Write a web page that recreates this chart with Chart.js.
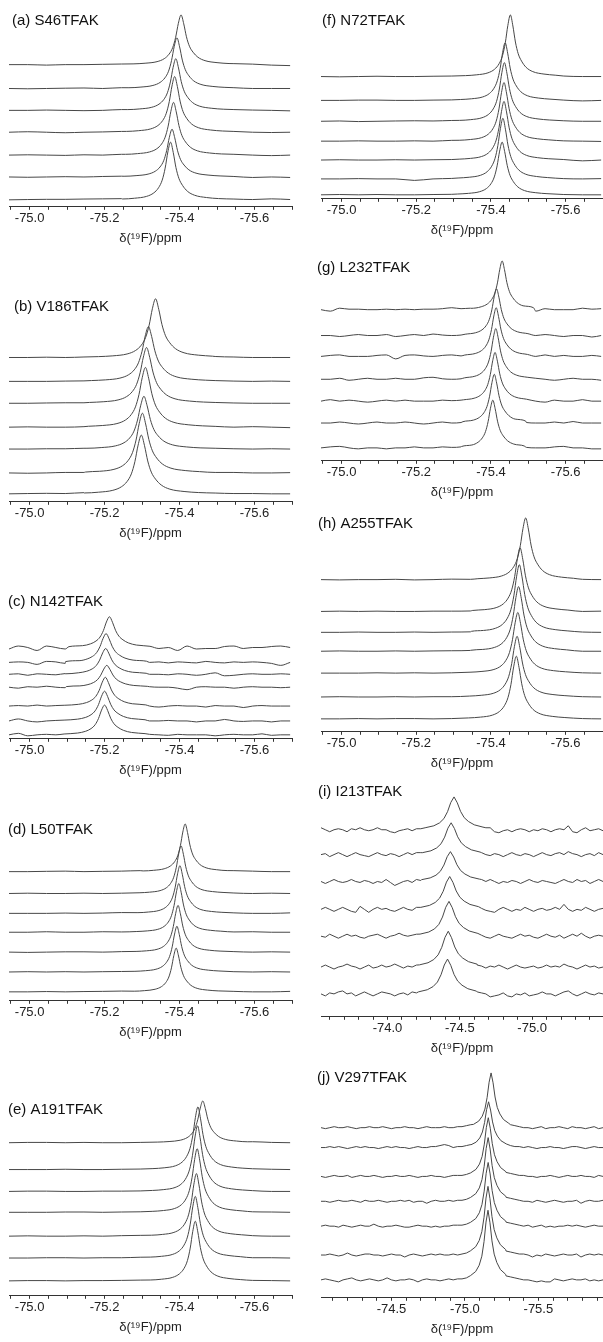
<!DOCTYPE html>
<html>
<head>
<meta charset="utf-8">
<title>19F NMR spectra of TFAK-labelled variants</title>
<script src="https://cdn.jsdelivr.net/npm/chart.js@4.4.1/dist/chart.umd.min.js"></script>
<style>
  html, body { margin: 0; padding: 0; background: #fff; }
  #figure { position: relative; width: 603px; height: 1342px; overflow: hidden; background: #fff; }
  #figure canvas { position: absolute; }
</style>
</head>
<body>
<div id="figure"></div>
<script>
// Resonance line shape: offsets in half-widths, heights relative to the apex
const lineShapeU = [-8, -6, -4, -2.8, -2, -1.4, -0.9, -0.45, 0, 0.45, 0.9, 1.4, 2, 2.8, 4, 6, 8];
const lineShapeY = [0.015, 0.028, 0.06, 0.12, 0.21, 0.34, 0.55, 0.83, 1, 0.82, 0.56, 0.37, 0.25, 0.15, 0.08, 0.04, 0.022];

// Each panel: 7 spectra, listed bottom to top. Offsets/heights in plot units,
// baseline arrays sampled every <step> ppm from the left end of the axis.
// <reach> is how many half-widths either side the line shape covers.

// (a) S46TFAK
const aTitle = '(a) S46TFAK';
const aRange = [-74.945, -75.70];
const aTicks = [-75.0, -75.2, -75.4, -75.6];
const aStep = 0.05;
const aHalfWidth = 0.016;
const aReach = 8;
const aOffset = [7, 30, 52, 75, 97, 119, 143];
const aPeakPpm = [-75.376, -75.38, -75.384, -75.387, -75.39, -75.393, -75.404];
const aPeakHeight = [58, 48, 53, 56, 52, 51, 50];
const aBaseline = [
  [0, 0.3, 0.5, 0.5, 0.8, 1, 1.2, 2.5, 4, 4, 2.5, 1.5, 0.8, 0.3, 1, 0.3],
  [0, -0.3, 0, 0.3, 0, 0.5, 0.8, 1.5, 3, 4, 2.5, 1.5, 0.5, -0.5, 0, -0.5],
  [0, 0.3, 0, -0.3, 0.3, 0, 0.8, 1.5, 3, 4, 2.5, 1.5, 0.8, 0, -0.5, 0],
  [0, 0.5, 0, -0.5, 0, 0.3, 0.8, 1.5, 3, 4, 3, 1.5, 0.8, 0, -0.3, 0],
  [0, 0, 0.3, 0, -0.3, 0, 0.8, 1.5, 3, 4, 3, 1.5, 0.8, 0.3, 0, -0.5],
  [0, -0.3, 0, 0.3, 0.5, 0, 0.8, 1.5, 2.5, 4, 3, 1.5, 0.8, 0, 0, 0],
  [0, 0, -0.5, 0, 0, 0.3, 0.6, 1, 2.5, 3.5, 3.5, 1.5, 1, 0.5, -0.5, -1]
];

// (b) V186TFAK
const bTitle = '(b) V186TFAK';
const bRange = [-74.945, -75.70];
const bTicks = [-75.0, -75.2, -75.4, -75.6];
const bStep = 0.05;
const bHalfWidth = 0.019;
const bReach = 8;
const bOffset = [8, 29, 53, 75, 99, 121, 145];
const bPeakPpm = [-75.298, -75.301, -75.305, -75.309, -75.312, -75.317, -75.336];
const bPeakHeight = [59, 60, 53, 60, 56, 55, 59];
const bBaseline = [
  [0, 0.3, 0.5, 0.3, 1.2, 2.5, 5, 9, 6, 3, 1.5, 0.8, 0.3, 0.3, 0, 0],
  [0, -0.3, 0, 0.5, 0.5, 2, 5, 9, 6, 3, 1.5, 0.5, 0.5, 0, 0, 0.3],
  [0, 0, 0.3, 0.3, 0.8, 2, 5, 9, 6, 3, 1.5, 0.8, 0.3, 0, 0.3, 0],
  [0, 0.3, 0, 0, 0.5, 2, 5, 9, 6, 3, 1.5, 0.8, 0, 0.5, 0, -0.5],
  [0, 0, 0.3, 0.5, 0.5, 1.8, 5, 9, 6, 3.5, 1.5, 0.8, 0.3, 0, 0, 0],
  [0, 0, 0, 0.3, 0.5, 1.8, 4, 9, 7, 3.5, 1.8, 0.8, 0.3, 0, 0.3, 0],
  [0, 0, 0.3, 0, 0.5, 1.2, 3, 7, 8, 4, 2, 1, 0.5, 0, 0, 0]
];

// (c) N142TFAK
const cTitle = '(c) N142TFAK';
const cRange = [-74.945, -75.70];
const cTicks = [-75.0, -75.2, -75.4, -75.6];
const cStep = 0.025;
const cHalfWidth = 0.018;
const cReach = 6;
const cOffset = [4, 18, 33, 52, 65, 77, 92];
const cPeakPpm = [-75.2, -75.2, -75.202, -75.206, -75.203, -75.204, -75.213];
const cPeakHeight = [30, 30, 29, 22, 26, 29, 31];
const cBaseline = [
  [0, 1.5, -1, 0, 0.5, 0, 0.5, 1, 2, 4, 8, 8, 4, 2, 1, 0.5, 0, -0.5, 0.5, 0, 0, 0, -1, 0, 0.5, 0, 0, 1, -0.5, 0, 0],
  [0, 2, 0, -1, 0, 0.5, 0, 0.5, 2, 4, 8, 8, 4, 2, 1, 0, 0, 0.5, 0, 0, -1, 0, 0, 1.5, 0, -0.5, 0, 0, -1, 0, 0],
  [0, 0.5, 0, 1, 0, 0.5, 1, 2, 2, 4, 8, 8, 4, 2, 1, 0, -1, 0, 0.5, 0, 0, -1, 0.5, 0, 0, -1.5, 0, 0.5, 0, 0, 0],
  [0, -1, 0.5, 0, 1, 0, -0.5, 0.5, 2, 4, 8, 8, 4, 2, 1, 0.5, 0, 0, -1, -2.5, 0, 0.5, 0, 0, -1, 0, 0.5, 0, 0, -0.5, 0],
  [0, 0.5, -1, 0.5, 0, -0.5, 0.5, 0, 3, 4, 8, 8, 4, 2, 0.5, 0, 0, -0.5, 0.5, 0, -1, 0, 1.5, -1.5, -1, 0, 0.5, 0, 0, 0.5, 0],
  [0, 0.5, 0, -2, 1, 0.5, -1, 1.5, 2, 4, 8, 8, 4, 2, 0.5, 0, 0.5, -0.5, 0.5, 0, -0.5, 1, 0, -0.5, 0.5, 0, 0.5, 0, -1, -3, 0],
  [-1.5, 1.5, 0, -3, 1.5, 0, -1.5, 0, 3, 5, 8, 8, 5, 2.5, 1, 0, -1, 0, -3, 1.5, -1.5, -1, -1, 1, 1.5, -1, 0, 0, 1, 1.5, 0]
];

// (d) L50TFAK
const dTitle = '(d) L50TFAK';
const dRange = [-74.945, -75.70];
const dTicks = [-75.0, -75.2, -75.4, -75.6];
const dStep = 0.05;
const dHalfWidth = 0.014;
const dReach = 8;
const dOffset = [9, 29, 49, 69, 88, 108, 130];
const dPeakPpm = [-75.391, -75.393, -75.396, -75.398, -75.401, -75.404, -75.415];
const dPeakHeight = [44, 46, 47, 49, 48, 48, 48];
const dBaseline = [
  [0, 0, 0.3, 0, 0.3, 0.5, 0.8, 1.5, 3, 4, 2.5, 1, 0.5, 0, 0, 0.5],
  [0, 0.3, 0, 0.3, 0, 0.3, 0.5, 1.5, 3, 4, 2.5, 1, 0.3, 0, 0.3, 0],
  [0, -0.3, 0, 0.3, 0.3, 0, 0.5, 1.2, 2.5, 4, 3, 1.2, 0.5, 0, 0.3, 0],
  [0, 0, 0.5, 0, 0, 0.5, 0.3, 1.2, 2.5, 4, 3, 1, 0.3, 0.5, 0, 0],
  [0, 0, 0, 0.3, 0, 0.3, 0.8, 1.5, 2.5, 4, 3, 1, 0.5, 0, 0, 0.5],
  [0, 0.3, 0, 0, 0.3, 0, 0.3, 1, 2, 4, 3, 1.5, 0.5, 0, 0.3, 0],
  [0, 0, 0.3, 0.5, 0, 0.3, 0.5, 1, 2, 3.5, 3.5, 1.5, 1, 0.5, 0, 0]
];

// (e) A191TFAK
const eTitle = '(e) A191TFAK';
const eRange = [-74.945, -75.70];
const eTicks = [-75.0, -75.2, -75.4, -75.6];
const eStep = 0.05;
const eHalfWidth = 0.015;
const eReach = 8;
const eOffset = [15, 38, 60, 84, 105, 127, 154];
const ePeakPpm = [-75.442, -75.442, -75.445, -75.447, -75.448, -75.449, -75.462];
const ePeakHeight = [60, 62, 63, 64, 66, 63, 42];
const eBaseline = [
  [0, 0.3, 0.3, 0, 0.3, 0.3, 0.5, 0.8, 1.2, 3, 5, 2.5, 1, 0.5, 0.3, 0],
  [0, 0, 0.3, 0.3, 0, 0.3, 0.3, 0.8, 1.2, 3, 5, 2.5, 1, 0.3, 0.3, 0],
  [0, 0.3, 0, 0, 0.3, 0, 0.5, 0.8, 1, 3, 5, 2.5, 1, 0.5, 0, 0],
  [0, 0, 0, 0.3, 0.3, 0, 0.3, 0.5, 1, 3, 5, 2.5, 1.2, 0.5, 0.3, 0],
  [0, 0.3, 0.3, 0, 0, 0.3, 0.3, 0.5, 1, 2.5, 5, 3, 1.2, 0.8, 0, 0],
  [0, 0, 0, 0.3, 0, 0, 0.3, 0.5, 0.8, 2.5, 5, 3, 1.2, 0.8, 0.3, 0],
  [0, 0.3, 0.3, 0, 0.3, 0, 0, 0.3, 1, 2, 4, 3.5, 1.5, 1, 0.3, 0]
];

// (f) N72TFAK
const fTitle = '(f) N72TFAK';
const fRange = [-74.945, -75.70];
const fTicks = [-75.0, -75.2, -75.4, -75.6];
const fStep = 0.05;
const fHalfWidth = 0.015;
const fReach = 8;
const fOffset = [4, 20, 39, 58, 78, 99, 123];
const fPeakPpm = [-75.43, -75.432, -75.435, -75.435, -75.436, -75.438, -75.452];
const fPeakHeight = [53, 61, 59, 59, 59, 58, 62];
const fBaseline = [
  [0, 0.3, 0, 0.3, 0, 0, 0.3, 0.5, 1, 3, 4, 2, 0.8, 0.3, 0, 0],
  [0, 0, 0.3, 0, 0, -1.5, 0, 0.5, 1, 3, 4, 2, 1, 0.3, 0, 0.3],
  [0, 0.3, 0, 0, 0.3, 0, 0.3, 0.5, 1.2, 3, 4, 2.5, 1, 0.5, -0.8, 0],
  [0, 0, 0.3, 0, 0, 0.3, 0, 0.8, 1.2, 3, 4, 2.5, 1, 0.3, 0, -0.3],
  [0, 0.3, -0.3, 0, 0.3, 0.5, 0.3, 0.8, 1.2, 3, 4, 2.5, 1.2, 0.5, 0, 0],
  [0, 0, 0.3, 0.3, 0, 0, 0.3, 0.5, 1.2, 3, 4, 2.5, 1, 0.3, -0.5, 0],
  [0, -0.3, 0, 0.3, 0, 0, 0.3, 0.5, 1, 2, 4, 3.5, 1.5, 0.5, 0, 0]
];

// (g) L232TFAK
const gTitle = '(g) L232TFAK';
const gRange = [-74.945, -75.70];
const gTicks = [-75.0, -75.2, -75.4, -75.6];
const gStep = 0.025;
const gHalfWidth = 0.014;
const gReach = 6;
const gOffset = [13, 38, 60, 82, 105, 126, 152];
const gPeakPpm = [-75.405, -75.409, -75.411, -75.413, -75.414, -75.415, -75.43];
const gPeakHeight = [48, 49, 49, 51, 49, 47, 49];
const gBaseline = [
  [0, 1, 1.5, 0, -1, 0, 0, -1, 0, 0, 1, 0, 0, 1, 0.5, 1, 1.5, 3, 5, 5, 3, 1.5, 0.5, 0, 0, 1, 1.5, 0, 0, -1, -1],
  [0, 0, 1, 0, -1, 0, 1, 0, 0, 1, 0, -1, 0, 1, 0, 0.5, 1.5, 3, 5, 5, 3, 1.5, 0.5, 0, 0, 1, 0, 1.5, 0, 0, 0],
  [0, 1.5, 0, 1, 0, -1, 0, 1, 0, 1, 0, 0, 0, 1, 0.5, 1, 1.5, 3, 5, 5, 3, 2, 0.5, 0, -1, 1, 0, 0, 1.5, 0, 0],
  [0, 0, 1, -1, 0, 1, 0, 0, 1, 0, 0, 1.5, 2, 0.5, 0, 0.5, 1.5, 3, 5, 5, 3, 1.5, 0.5, 1, 0, -1, 0, 1, 0, 0, -1],
  [0, 1, 1.5, 0, 0, 0, 1, 1.5, -2.5, 1, 1.5, 0.5, 0, 1, 1.5, 0.5, 1.5, 3, 5, 5, 3, 1.5, 0.5, 0, 1.5, 0, 1, 0, 0, 1, 0],
  [0, 0, -1, 0, 1, 0, 0, 1, -1, 0, 1, 0, 1.5, 0.5, 0, 0.5, 1.5, 3, 5, 5, 3, 2, 0.5, 0, 1, 0, -1, 0, 0, -1.5, 0],
  [0, -1.5, 1.5, 0.5, 0.5, 0, 0, 0.5, 0, 0.5, 0, 0.5, 0.5, 1, 2, 1, 1.5, 3, 5, 5, 4, 3, 0.5, -1.5, 1, 0, 0, 0, 1.5, 0.5, 1]
];

// (h) A255TFAK
const hTitle = '(h) A255TFAK';
const hRange = [-74.945, -75.70];
const hTicks = [-75.0, -75.2, -75.4, -75.6];
const hStep = 0.05;
const hHalfWidth = 0.016;
const hReach = 8;
const hOffset = [13, 35, 59, 81, 100, 121, 153];
const hPeakPpm = [-75.468, -75.47, -75.472, -75.474, -75.476, -75.478, -75.493];
const hPeakHeight = [63, 61, 61, 65, 68, 64, 62];
const hBaseline = [
  [0, 0, 0.3, 0, 0.3, 0.3, 0, 0.3, 0.5, 1.5, 4, 4, 1.5, 0.8, 0.3, 0],
  [0, 0.3, 0, 0, 0.3, 0, 0.3, 0.3, 0.8, 1.5, 4, 4, 1.5, 0.8, 0.3, 0],
  [0, 0, 0, 0.3, 0, 0.3, 0, 0.3, 0.5, 1.5, 4, 4, 1.5, 0.5, 0.3, 0],
  [0, 0.3, 0, 0, 0.3, 0, 0.3, 0.5, 0.8, 1.5, 4, 4, 1.8, 0.8, 0, 0],
  [0, 0, 0.3, 0, 0, 0.3, 0, 0.3, 0.5, 1.5, 4, 4, 1.5, 0.8, 0.3, 0],
  [0, 0.3, 0, 0.3, 0, 0, 0.3, 0.3, 0.5, 1.5, 4, 4, 1.5, 0.5, 0, 0.3],
  [0, -0.3, 0, 0, 0.3, -0.3, 0, 0.5, 0.3, 1, 3, 4, 2, 0.5, 0.3, 0]
];

// (i) I213TFAK
const iTitle = '(i) I213TFAK';
const iRange = [-73.54, -75.49];
const iTicks = [-74.0, -74.5, -75.0];
const iStep = 0.03;
const iHalfWidth = 0.05;
const iReach = 4;
const iOffset = [23, 50, 81, 108, 136, 163, 188];
const iPeakPpm = [-74.415, -74.42, -74.425, -74.43, -74.435, -74.44, -74.46];
const iPeakHeight = [35, 36, 35, 33, 30, 32, 33];
const iBaseline = [
  [0, -2, 1, 0, 2, 3, 0, 1, -2, 0, 2, 0, -2, 0, 2, 1, 0, -2, 0, 1, -1, 2, 1, -3, 5, 10, 18, 27, 33, 35, 31, 22, 14,
   9, 5, 3, 2, 1, 0, -3, -2, -1, 1, -2, -3, 0, -1, 1, -2, -1, 0, 2, 0, 0, -2, 0, 2, 3, 0, -2, 0, 2, 0, -1, 1, 0],
  [0, 2, 0, -2, 0, 1, 3, 1, 0, -2, 0, 2, -1, 0, 2, 0, 1, 3, 1, -1, 1, 0, 2, 2, 3, 6, 12, 20, 30, 36, 32, 24, 16,
   10, 6, 3, 2, 1, -1, 1, 0, 2, 0, -2, 0, 2, 0, -1, 0, 1, -1, 0, 2, 0, 1, 0, 3, 1, 0, -2, 0, 2, 0, 1, -1, 0],
  [0, -1, 2, 0, -2, 0, 2, 0, 1, -1, -2, 0, 1, 2, 0, -2, 0, 1, 3, 1, 0, 1, 2, 2, 3, 6, 11, 19, 28, 35, 31, 23, 15,
   10, 6, 3, 2, 1, -1, -2, 0, 2, 0, -1, -2, 0, 2, 0, 1, -1, -2, 0, 2, 0, -1, 1, -2, 0, 2, 0, 3, 0, -2, 0, 1, 0],
  [0, 2, 0, -2, 0, 2, 0, -2, -3, 3, 0, -3, 0, 2, 0, 1, -1, -2, 0, 2, 0, -1, 2, 2, 3, 5, 10, 18, 27, 33, 30, 23, 15,
   10, 6, 3, 2, 1, -1, -2, -3, 0, 2, 0, -2, 0, -1, 2, 0, -2, 0, 1, -1, 0, 2, 0, 5, 0, -2, 0, -1, 2, 0, -2, 0, 1],
  [0, -2, 0, 2, 0, -1, 0, 2, 0, -1, 1, 0, -2, 0, -1, 2, -1, -4, -2, 0, 1, -1, 2, 1, 2, 4, 8, 15, 23, 29, 30, 25, 17,
   11, 7, 4, 3, 2, 0, 2, 0, -2, 0, -1, 1, 0, -2, 0, 2, 0, -1, 1, 0, -1, -2, 0, 2, 0, -1, 2, 0, 1, -2, 0, 2, 0],
  [0, 1, -2, 0, 2, 0, -2, 0, 2, 0, -1, -2, 0, 2, 0, -1, 1, 0, -2, 0, 2, 0, 2, 2, 3, 5, 10, 18, 26, 32, 31, 24, 16,
   10, 6, 3, 3, 2, 0, -1, 1, 0, -2, 0, 2, 0, -1, 1, 0, -2, 0, 2, 0, -1, 1, 2, 0, 3, 1, 0, -2, 0, 1, -1, 2, 0],
  [2, 0, -2, 0, 1, 0, -2, 1, 0, 2, 0, -1, 0, 2, 0, 0, -2, -3, -1, 0, 1, -1, 1, 1, 2, 3, 6, 10, 16, 24, 31, 33, 27,
   19, 12, 8, 4, 3, 2, 2, -2, -3, -1, 0, -2, 0, 1, 0, -2, 0, -1, 1, 0, -2, 0, 1, 0, 4, -2, -3, 0, 2, -1, 0, 1, -1]
];

// (j) V297TFAK
const jTitle = '(j) V297TFAK';
const jRange = [-74.02, -75.94];
const jTicks = [-74.5, -75.0, -75.5];
const jStep = 0.03;
const jHalfWidth = 0.03;
const jReach = 4;
const jOffset = [18, 43, 72, 97, 122, 151, 171];
const jPeakPpm = [-75.157, -75.157, -75.158, -75.158, -75.159, -75.161, -75.178];
const jPeakHeight = [70, 69, 64, 64, 59, 46, 55];
const jBaseline = [
  [0, 1, 0, -1, -2, 0, 1, 2, 0, -1, 0, 1, 0, -1, 0, 2, 0, -1, 0, 0, 1, 0, -2, 0, 1, 0,
   0, -1, 0, 1, 0, 1, 1, 2, 4, 10, 30, 60, 70, 40, 12, 6, 4, 3, 2, 1, 0, 0, -1, -2, -1, -2,
   -2, 1, 0, -1, 0, 1, 0, 0, 1, -1, 0, -1, 0],
  [0, 0, 1, 0, -1, 0, 2, 0, -1, 0, 1, 1, 0, 0, -1, 0, 1, 0, 0, -2, 0, 1, 0, -1, 0, 1,
   0, 1, 0, 0, 1, 0, 1, 2, 4, 10, 30, 60, 69, 40, 12, 6, 4, 3, 2, 1, 1, 0, -2, 0, -1, 1,
   0, -1, 0, 1, 0, 0, 1, -2, 0, 1, 0, 1, 0],
  [0, 1, 0, 0, -1, 1, 0, -1, 0, 1, 0, 0, 2, 0, -1, 0, 0, 1, 0, -1, -1, 0, 1, 0, 0, -1,
   0, -1, 0, 0, 1, 1, 1, 2, 4, 9, 28, 56, 64, 38, 12, 6, 4, 3, 2, 1, 0, 1, -1, 0, 1, -1,
   0, -1, 0, 0, 1, 0, 1, 0, -1, 0, 1, 0, 0],
  [0, 0, -1, 0, 1, 0, 0, 1, 0, -1, 1, 0, 0, 1, 0, -1, 0, 0, 1, 0, 1, -1, 0, 0, -2, 0,
   1, 0, 0, 1, 0, 1, 1, 2, 4, 9, 28, 56, 64, 38, 12, 6, 4, 3, 2, 1, 0, 0, -1, 1, 0, -1,
   0, 1, 0, -1, 0, 0, 1, -2, 0, 1, 0, 0, 1],
  [0, -1, 0, 1, 0, 0, 1, -1, 0, 1, 0, 0, 1, 0, -1, 0, 0, 1, 0, 0, 1, 0, -1, 0, 0, 1,
   0, 0, -1, 0, 1, 1, 1, 2, 4, 9, 27, 52, 59, 36, 11, 6, 4, 3, 2, 1, 1, 0, 0, -1, 0, 0,
   1, 0, -1, 0, 1, 0, 0, 1, 0, 0, -1, 1, 0],
  [0, 0, 1, 0, 1, 0, -1, 0, 1, 0, 1, 0, 0, -1, 0, 1, 0, 1, 0, 0, -1, 0, 1, 0, 0, 1,
   1, 2, 3, 2, 0, 1, 1, 2, 3, 7, 22, 40, 46, 30, 10, 5, 3, 2, 1, 1, 0, 1, 0, -1, 0, 0,
   1, 0, 0, -1, 0, 1, 1, 0, -1, 0, 1, 0, 0],
  [0, -1, 0, 1, 0, 0, 1, 0, -1, 0, 0, 1, 0, 0, 1, 0, -1, 0, 0, 1, 0, 0, -1, 0, 1, 0,
   0, 0, 1, 0, 0, 1, 1, 2, 3, 5, 12, 30, 50, 55, 30, 10, 4, 3, 2, 1, 0, 0, -1, 0, 1, -1,
   0, 0, 1, 0, -1, 1, 0, 0, -1, 0, 1, -1, 0]
];

const FONT = '"Liberation Sans", Arial, Helvetica, sans-serif';
const LINE = '#474747';

// Layout of the ten panels (page pixels); axisY is the x-axis line.
// Noisy spectra (i, j) are drawn with straight segments.
const LEFT = { left: 0, width: 300, padLeft: 9, padRight: 8 };
const RIGHT = { left: 300, width: 303, padLeft: 21, padRight: 0 };
const panels = [
  { col: LEFT,  top: 0,    axisY: 208,  tx: 12,  ty: 21,   minor: 0.05, smooth: true,  title: aTitle, range: aRange, ticks: aTicks, step: aStep, halfWidth: aHalfWidth, reach: aReach, offset: aOffset, peakPpm: aPeakPpm, peakHeight: aPeakHeight, baseline: aBaseline },
  { col: LEFT,  top: 252,  axisY: 503,  tx: 14,  ty: 307,  minor: 0.05, smooth: true,  title: bTitle, range: bRange, ticks: bTicks, step: bStep, halfWidth: bHalfWidth, reach: bReach, offset: bOffset, peakPpm: bPeakPpm, peakHeight: bPeakHeight, baseline: bBaseline },
  { col: LEFT,  top: 585,  axisY: 740,  tx: 8,   ty: 602,  minor: 0.05, smooth: true,  title: cTitle, range: cRange, ticks: cTicks, step: cStep, halfWidth: cHalfWidth, reach: cReach, offset: cOffset, peakPpm: cPeakPpm, peakHeight: cPeakHeight, baseline: cBaseline },
  { col: LEFT,  top: 815,  axisY: 1002, tx: 8,   ty: 830,  minor: 0.05, smooth: true,  title: dTitle, range: dRange, ticks: dTicks, step: dStep, halfWidth: dHalfWidth, reach: dReach, offset: dOffset, peakPpm: dPeakPpm, peakHeight: dPeakHeight, baseline: dBaseline },
  { col: LEFT,  top: 1095, axisY: 1297, tx: 8,   ty: 1110, minor: 0.05, smooth: true,  title: eTitle, range: eRange, ticks: eTicks, step: eStep, halfWidth: eHalfWidth, reach: eReach, offset: eOffset, peakPpm: ePeakPpm, peakHeight: ePeakHeight, baseline: eBaseline },
  { col: RIGHT, top: 0,    axisY: 200,  tx: 322, ty: 21,   minor: 0.05, smooth: true,  title: fTitle, range: fRange, ticks: fTicks, step: fStep, halfWidth: fHalfWidth, reach: fReach, offset: fOffset, peakPpm: fPeakPpm, peakHeight: fPeakHeight, baseline: fBaseline },
  { col: RIGHT, top: 255,  axisY: 462,  tx: 317, ty: 268,  minor: 0.05, smooth: true,  title: gTitle, range: gRange, ticks: gTicks, step: gStep, halfWidth: gHalfWidth, reach: gReach, offset: gOffset, peakPpm: gPeakPpm, peakHeight: gPeakHeight, baseline: gBaseline },
  { col: RIGHT, top: 510,  axisY: 733,  tx: 318, ty: 524,  minor: 0.05, smooth: true,  title: hTitle, range: hRange, ticks: hTicks, step: hStep, halfWidth: hHalfWidth, reach: hReach, offset: hOffset, peakPpm: hPeakPpm, peakHeight: hPeakHeight, baseline: hBaseline },
  { col: RIGHT, top: 780,  axisY: 1018, tx: 318, ty: 792,  minor: 0.1,  smooth: false, title: iTitle, range: iRange, ticks: iTicks, step: iStep, halfWidth: iHalfWidth, reach: iReach, offset: iOffset, peakPpm: iPeakPpm, peakHeight: iPeakHeight, baseline: iBaseline },
  { col: RIGHT, top: 1060, axisY: 1299, tx: 317, ty: 1078, minor: 0.1,  smooth: false, title: jTitle, range: jRange, ticks: jTicks, step: jStep, halfWidth: jHalfWidth, reach: jReach, offset: jOffset, peakPpm: jPeakPpm, peakHeight: jPeakHeight, baseline: jBaseline }
];

// One spectrum: sampled baseline away from the line, line shape around it
function traceData(p, i) {
  const c = p.peakPpm[i], w = p.halfWidth, h = p.peakHeight[i], y0 = p.offset[i];
  const pts = [];
  p.baseline[i].forEach((v, k) => {
    const x = p.range[0] - k * p.step;
    if (Math.abs(x - c) >= p.reach * w) pts.push({ x: x, y: y0 + v });
  });
  lineShapeU.forEach((u, j) => {
    if (Math.abs(u) <= p.reach) pts.push({ x: c - u * w, y: y0 + h * lineShapeY[j] });
  });
  return pts.sort((m, n) => m.x - n.x);
}

function tickValues(p) {
  const lo = p.range[1], hi = p.range[0], out = [];
  for (let n = Math.ceil(lo / p.minor - 1e-6); n * p.minor <= hi + 1e-9; n++) {
    out.push({ value: +(n * p.minor).toFixed(3) });
  }
  return out;
}

// panel caption drawn inside the plot, top-left
const panelLabel = {
  id: 'panelLabel',
  afterDraw(chart, args, opts) {
    const ctx = chart.ctx;
    ctx.save();
    ctx.font = '15px ' + FONT;
    ctx.fillStyle = '#111';
    ctx.textBaseline = 'middle';
    ctx.textAlign = 'left';
    ctx.fillText(opts.text, opts.x, opts.y);
    ctx.restore();
  }
};

const figure = document.getElementById('figure');

panels.forEach(p => {
  const canvas = document.createElement('canvas');
  const height = p.axisY - p.top + 38;
  canvas.width = p.col.width;
  canvas.height = height;
  canvas.style.left = p.col.left + 'px';
  canvas.style.top = p.top + 'px';
  canvas.style.width = p.col.width + 'px';
  canvas.style.height = height + 'px';
  figure.appendChild(canvas);

  const datasets = p.baseline.map((_, i) => ({
    data: traceData(p, i),
    borderColor: LINE,
    borderWidth: 1,
    pointRadius: 0,
    fill: false,
    cubicInterpolationMode: p.smooth ? 'monotone' : 'default',
    tension: 0
  }));

  new Chart(canvas, {
    type: 'line',
    data: { datasets },
    options: {
      responsive: false,
      animation: false,
      devicePixelRatio: 1,
      layout: { padding: { left: p.col.padLeft, right: p.col.padRight, top: 0, bottom: 0 } },
      scales: {
        x: {
          type: 'linear',
          reverse: true,
          min: p.range[1],
          max: p.range[0],
          afterBuildTicks: scale => { scale.ticks = tickValues(p); },
          border: { display: true, color: '#333', width: 1 },
          grid: { display: true, drawOnChartArea: false, drawTicks: true, tickLength: 3, color: '#333', lineWidth: 1 },
          ticks: {
            autoSkip: false,
            maxRotation: 0,
            padding: 1,
            color: '#222',
            font: { family: FONT, size: 13 },
            callback: value => p.ticks.some(t => Math.abs(t - value) < 1e-6) ? value.toFixed(1) : ''
          },
          title: {
            display: true,
            text: 'δ(¹⁹F)/ppm',
            color: '#222',
            font: { family: FONT, size: 13 },
            padding: { top: 3, bottom: 0 }
          }
        },
        y: { display: false, min: 0, max: p.axisY - p.top }
      },
      plugins: {
        legend: { display: false },
        tooltip: { enabled: false },
        panelLabel: { text: p.title, x: p.tx - p.col.left, y: p.ty - p.top }
      }
    },
    plugins: [panelLabel]
  });
});
</script>
</body>
</html>
